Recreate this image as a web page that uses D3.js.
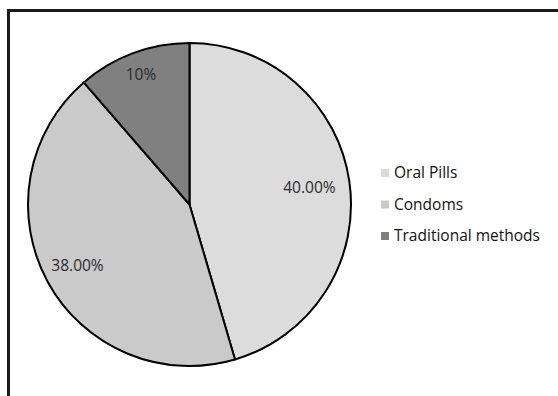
<!DOCTYPE html>
<html>
<head>
<meta charset="utf-8">
<script src="https://cdn.jsdelivr.net/npm/d3@7"></script>
<style>
  body { margin: 0; background: #fff; }
</style>
</head>
<body>
<div id="chart"></div>
<script>
const categories = ["Oral Pills", "Condoms", "Traditional methods"]
const values = [40, 38, 10]
const labels = ["40.00%", "38.00%", "10%"]
const colors = ["#dcdcdc", "#cacaca", "#808080"]

const width = 558, height = 396
const cx = 189.5, cy = 204.5, radius = 161.5

const svg = d3.select("#chart")
  .append("svg")
  .attr("width", width)
  .attr("height", height)
  .attr("viewBox", [0, 0, width, height])

// frame: top and left edges only
svg.append("path")
  .attr("d", `M8.5,${height}V10.5H${width}`)
  .attr("fill", "none")
  .attr("stroke", "#1a1a1a")
  .attr("stroke-width", 3)

const pie = d3.pie().sort(null).value(d => d)
const arcs = pie(values)
const arc = d3.arc().innerRadius(0).outerRadius(radius)

const g = svg.append("g")
  .attr("transform", `translate(${cx},${cy})`)

g.selectAll("path")
  .data(arcs)
  .join("path")
  .attr("d", arc)
  .attr("fill", (d, i) => colors[i])
  .attr("stroke", "#000")
  .attr("stroke-width", 2)
  .attr("stroke-linejoin", "round")

// label placement, roughly like Excel's best fit
const labelFrac = [0.75, 0.79, 0.86]
g.selectAll("text")
  .data(arcs)
  .join("text")
  .attr("transform", (d, i) => {
    const r = radius * labelFrac[i]
    const a = (d.startAngle + d.endAngle) / 2
    return `translate(${r * Math.sin(a)},${-r * Math.cos(a)})`
  })
  .attr("text-anchor", "middle")
  .attr("dy", "0.35em")
  .attr("font-family", "'Open Sans', sans-serif")
  .attr("font-size", 15.5)
  .attr("fill", "#2a2a2a")
  .text((d, i) => labels[i])

const legend = svg.append("g")
  .attr("transform", "translate(381,169)")
  .selectAll("g")
  .data(categories)
  .join("g")
  .attr("transform", (d, i) => `translate(0,${i * 31.5})`)

legend.append("rect")
  .attr("width", 8)
  .attr("height", 8)
  .attr("fill", (d, i) => colors[i])

legend.append("text")
  .attr("x", 13)
  .attr("y", 4)
  .attr("dy", "0.35em")
  .attr("font-family", "'Open Sans', sans-serif")
  .attr("font-size", 15.5)
  .attr("fill", "#111")
  .text(d => d)
</script>
</body>
</html>
